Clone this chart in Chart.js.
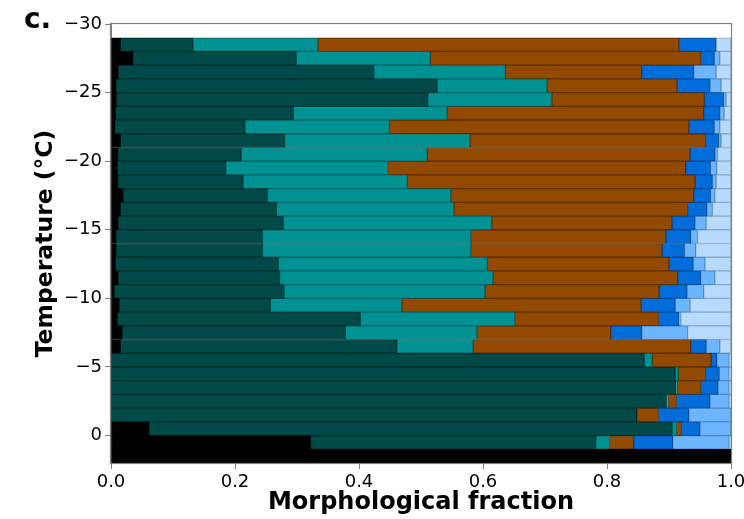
<!DOCTYPE html>
<html>
<head>
<meta charset="utf-8">
<script src="https://cdn.jsdelivr.net/npm/chart.js@4.4.0/dist/chart.umd.min.js"></script>
<style>
  html, body { margin: 0; padding: 0; background: #fff; }
  #wrap { width: 744px; height: 519px; }
</style>
</head>
<body>
<div id="wrap"><canvas id="morph" width="744" height="519"></canvas></div>
<script>
// 1 °C bins, centre temperature, coldest first
const temperatures = [
  -28.5, -27.5, -26.5, -25.5, -24.5, -23.5, -22.5, -21.5, -20.5, -19.5,
  -18.5, -17.5, -16.5, -15.5, -14.5, -13.5, -12.5, -11.5, -10.5, -9.5,
  -8.5, -7.5, -6.5, -5.5, -4.5, -3.5, -2.5, -1.5, -0.5, 0.5, 1.5
];

// fraction of each morphology class per bin (each bin sums to 1)
const fracBlack = [
  0.015, 0.035, 0.012, 0.008, 0.009, 0.007, 0.006, 0.015, 0.011, 0.010,
  0.011, 0.020, 0.015, 0.012, 0.008, 0.008, 0.007, 0.012, 0.005, 0.013,
  0.010, 0.018, 0.015, 0, 0, 0, 0, 0, 0.062, 0.322, 1
];
const fracDarkTeal = [
  0.117, 0.264, 0.412, 0.518, 0.502, 0.287, 0.210, 0.265, 0.199, 0.175,
  0.202, 0.232, 0.252, 0.266, 0.236, 0.236, 0.263, 0.260, 0.274, 0.244,
  0.392, 0.360, 0.446, 0.860, 0.910, 0.911, 0.896, 0.848, 0.843, 0.460, 0
];
const fracTeal = [
  0.202, 0.216, 0.212, 0.177, 0.200, 0.248, 0.233, 0.299, 0.300, 0.261,
  0.265, 0.296, 0.286, 0.336, 0.336, 0.336, 0.337, 0.344, 0.324, 0.212,
  0.249, 0.212, 0.123, 0.013, 0.005, 0.002, 0.003, 0, 0.007, 0.022, 0
];
const fracBrown = [
  0.582, 0.436, 0.220, 0.210, 0.246, 0.414, 0.483, 0.380, 0.424, 0.481,
  0.464, 0.392, 0.377, 0.291, 0.315, 0.309, 0.293, 0.298, 0.281, 0.386,
  0.232, 0.216, 0.351, 0.095, 0.044, 0.038, 0.013, 0.035, 0.008, 0.039, 0
];
const fracBlue = [
  0.060, 0.022, 0.084, 0.053, 0.031, 0.026, 0.041, 0.021, 0.040, 0.040,
  0.028, 0.027, 0.031, 0.037, 0.040, 0.036, 0.039, 0.037, 0.045, 0.055,
  0.033, 0.050, 0.025, 0.009, 0.022, 0.028, 0.054, 0.049, 0.030, 0.063, 0
];
const fracLightBlue = [
  0, 0.009, 0.036, 0.018, 0.004, 0.007, 0.009, 0.004, 0.004, 0.010,
  0.006, 0.007, 0.009, 0.018, 0.011, 0.018, 0.019, 0.023, 0.027, 0.024,
  0.003, 0.074, 0.022, 0.020, 0.016, 0.018, 0.031, 0.068, 0.050, 0.091, 0
];
const fracPaleBlue = [
  0.024, 0.018, 0.024, 0.016, 0.008, 0.011, 0.018, 0.016, 0.022, 0.023,
  0.024, 0.026, 0.030, 0.040, 0.054, 0.057, 0.042, 0.026, 0.044, 0.066,
  0.081, 0.070, 0.018, 0.003, 0.003, 0.003, 0.003, 0, 0, 0.003, 0
];

const xTicks = [0, 0.2, 0.4, 0.6, 0.8, 1.0];
const yTicks = [-30, -25, -20, -15, -10, -5, 0];

const series = [
  { label: 'black', values: fracBlack, fill: '#000000', edge: '#000000' },
  { label: 'dark teal', values: fracDarkTeal, fill: '#004949', edge: '#002d2d' },
  { label: 'teal', values: fracTeal, fill: '#009292', edge: '#006363' },
  { label: 'brown', values: fracBrown, fill: '#924900', edge: '#5c2e00' },
  { label: 'blue', values: fracBlue, fill: '#006ddb', edge: '#004a96' },
  { label: 'light blue', values: fracLightBlue, fill: '#6db6ff', edge: '#4f88c0' },
  { label: 'pale blue', values: fracPaleBlue, fill: '#b6dbff', edge: '#8ca6c0' }
];

const FONT = '"DejaVu Sans", "Liberation Sans", sans-serif';
const AXIS = '#808080';

// outline the whole plot box and put the panel letter in the corner
const framePlugin = {
  id: 'frame',
  afterDraw(chart) {
    const { ctx, chartArea: a } = chart;
    ctx.save();
    ctx.strokeStyle = AXIS;
    ctx.lineWidth = 1.2;
    ctx.strokeRect(Math.round(a.left) - 0.5, Math.round(a.top) - 0.5,
      Math.round(a.right - a.left) + 1, Math.round(a.bottom - a.top) + 1);
    ctx.fillStyle = '#000';
    ctx.font = 'bold 28px ' + FONT;
    ctx.textBaseline = 'alphabetic';
    ctx.fillText('c.', 24, 28);
    ctx.restore();
  }
};

const minus = v => (v < 0 ? '\u2212' + Math.abs(v) : String(v));

new Chart(document.getElementById('morph'), {
  type: 'bar',
  data: {
    datasets: series.map(s => ({
      label: s.label,
      data: temperatures.map((t, i) => ({ y: t, x: s.values[i] })),
      backgroundColor: s.fill,
      borderColor: s.edge,
      borderWidth: 1,
      borderSkipped: false,
      barPercentage: 1,
      categoryPercentage: 1
    }))
  },
  options: {
    indexAxis: 'y',
    responsive: false,
    devicePixelRatio: 1,
    animation: false,
    layout: { padding: { left: 0, right: 13, top: 24, bottom: 0 } },
    plugins: { legend: { display: false }, tooltip: { enabled: false } },
    scales: {
      x: {
        type: 'linear',
        stacked: true,
        min: 0,
        max: 1,
        afterFit(scale) {
          scale.height = 56;
          scale.paddingLeft = 0;
          scale.paddingRight = 0;
        },
        afterBuildTicks(scale) { scale.ticks = xTicks.map(v => ({ value: v })); },
        ticks: {
          color: '#000',
          font: { family: FONT, size: 18 },
          padding: 3,
          callback: v => Number(v).toFixed(1)
        },
        grid: { drawOnChartArea: false, drawTicks: true, tickLength: 6, color: AXIS },
        border: { display: true, color: AXIS, width: 1 },
        title: {
          display: true,
          text: 'Morphological fraction',
          color: '#000',
          font: { family: FONT, size: 24, weight: 'bold' },
          padding: { top: 0, bottom: 2 }
        }
      },
      y: {
        type: 'linear',
        stacked: true,
        reverse: true,
        offset: false,
        min: -30,
        max: 2,
        afterFit(scale) {
          scale.width = 111;
          scale.paddingTop = 0;
          scale.paddingBottom = 0;
        },
        afterBuildTicks(scale) { scale.ticks = yTicks.map(v => ({ value: v })); },
        ticks: {
          color: '#000',
          font: { family: FONT, size: 18 },
          padding: 3,
          callback: v => minus(v)
        },
        grid: { drawOnChartArea: false, drawTicks: true, tickLength: 6, color: AXIS, offset: false },
        border: { display: true, color: AXIS, width: 1 },
        title: {
          display: true,
          text: 'Temperature (°C)',
          color: '#000',
          font: { family: FONT, size: 23.5, weight: 'bold' },
          padding: { top: 32, bottom: 0 }
        }
      }
    }
  },
  plugins: [framePlugin]
});
</script>
</body>
</html>
